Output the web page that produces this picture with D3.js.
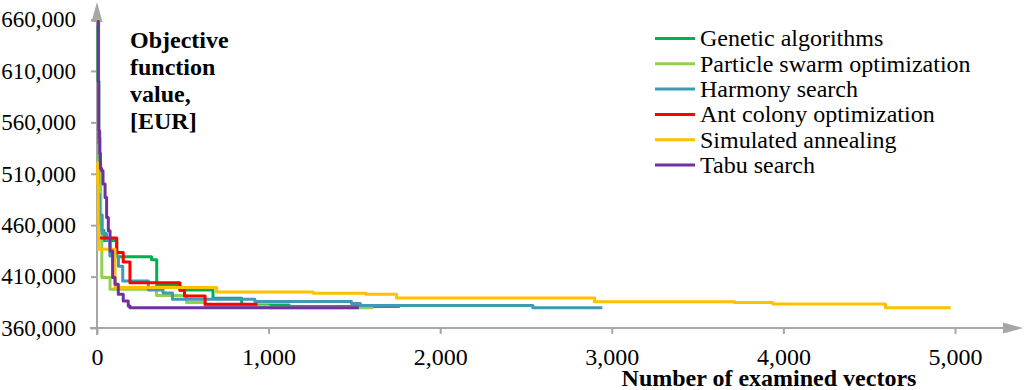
<!DOCTYPE html>
<html><head><meta charset="utf-8">
<script src="https://cdn.jsdelivr.net/npm/d3@7"></script>
<style>
body{margin:0;background:#fff;}
svg{display:block;}
</style></head>
<body><svg id="c" width="1024" height="390"></svg>
<script>
// ---- data ----
const seriesNames = ["Genetic algorithms","Particle swarm optimization","Harmony search","Ant colony optimization","Simulated annealing","Tabu search"];
const seriesColors = ["#00B050","#92D050","#4199B5","#FF0000","#FFC000","#7030A0"];
const gaData = [[0,655000],[6,600000],[10,540000],[14,480000],[20,455000],[40,445000],[115,429200],[318,426300],[348,401500],[483,397000],[676,389000],[843,382400],[1120,380800],[1765,380800]];
const psoData = [[0,660000],[10,551000],[17,520000],[22,470000],[28,409000],[76,397700],[347,391500],[522,384700],[630,381500],[1000,379800],[1610,379800]];
const hsData = [[0,490000],[15,470000],[30,452000],[55,445000],[75,430000],[125,420000],[150,405800],[299,397000],[385,394000],[440,388000],[920,385800],[1483,383900],[1535,381900],[2540,379700],[2945,379700]];
const acoData = [[0,447400],[115,433400],[153,424300],[192,404000],[483,396700],[510,391000],[630,383200],[935,383200]];
const saData = [[0,521000],[4,500000],[7,460000],[9,436700],[105,399300],[697,395100],[1260,393800],[1567,392800],[1745,389200],[2900,385600],[3716,384700],[3939,383400],[4595,379800],[4975,379800]];
const tsData = [[0,658000],[8,600000],[10,552000],[14,545000],[16,530000],[20,515000],[27,513000],[35,500000],[47,487000],[56,467500],[66,454500],[76,435000],[91,409000],[105,402600],[124,392800],[153,386300],[182,381400],[192,379800],[1526,379800]];
const allData = [gaData, psoData, hsData, acoData, saData, tsData];
const yTicks = [360000,410000,460000,510000,560000,610000,660000];
const xTicks = [0,1000,2000,3000,4000,5000];
const yTitle = ["Objective","function","value,","[EUR]"];
const xTitle = "Number of examined vectors";

// ---- chart ----
const FONT = "'Liberation Serif', 'Times New Roman', serif";
const FS = 24;
const svg = d3.select("#c");
const x = d3.scaleLinear().domain([0,5000]).range([97,955]);
const y = d3.scaleLinear().domain([360000,660000]).range([328,19.5]);
const fmt = d3.format(",");
const axisColor = "#A6A6A6";

const yAx = svg.append("g").attr("transform","translate(97,0)")
  .call(d3.axisLeft(y).tickValues(yTicks).tickFormat(fmt).tickSize(6).tickPadding(15));
const xAx = svg.append("g").attr("transform","translate(0,328)")
  .call(d3.axisBottom(x).tickValues(xTicks).tickFormat(fmt).tickSize(6).tickPadding(14));
[yAx,xAx].forEach(g=>{
  g.attr("font-family",FONT);
  g.select(".domain").remove();
  g.selectAll(".tick line").attr("stroke",axisColor).attr("stroke-width",2);
  g.selectAll(".tick text").attr("font-family",FONT).attr("fill","#000");
});
yAx.selectAll(".tick text").attr("font-size",23);
xAx.selectAll(".tick text").attr("font-size",FS);
// axis lines with arrows
svg.append("line").attr("x1",97).attr("x2",97).attr("y1",335).attr("y2",20).attr("stroke",axisColor).attr("stroke-width",2);
svg.append("path").attr("d","M91.5,22 L97,2 L102.5,22 Z").attr("fill",axisColor);
svg.append("line").attr("x1",90).attr("x2",1004).attr("y1",328).attr("y2",328).attr("stroke",axisColor).attr("stroke-width",2);
svg.append("path").attr("d","M1003,322.5 L1023,328 L1003,333.5 Z").attr("fill",axisColor);

// lines
const line = d3.line().x(d=>x(d[0])).y(d=>y(d[1])).curve(d3.curveStepAfter);
allData.forEach((data,i)=>{
  svg.append("path").datum(data).attr("d",line).attr("fill","none")
    .attr("stroke",seriesColors[i]).attr("stroke-width",3).attr("stroke-linejoin","round");
});

// y title
svg.append("g").selectAll("text").data(yTitle).join("text")
  .attr("x",130).attr("y",(d,i)=>48+i*27)
  .attr("font-family",FONT).attr("font-size",FS).attr("font-weight","bold").text(d=>d);
// x title
svg.append("text").attr("x",769).attr("y",386).attr("text-anchor","middle")
  .attr("font-family",FONT).attr("font-size",FS).attr("font-weight","bold").text(xTitle);

// legend
const lg = svg.append("g");
seriesNames.forEach((n,i)=>{
  const yy = 38.5 + i*25.3;
  lg.append("line").attr("x1",655).attr("x2",695).attr("y1",yy).attr("y2",yy)
    .attr("stroke",seriesColors[i]).attr("stroke-width",3);
  lg.append("text").attr("x",700).attr("y",yy).attr("dy","0.33em")
    .attr("font-family",FONT).attr("font-size",FS).text(n);
});
</script></body></html>
